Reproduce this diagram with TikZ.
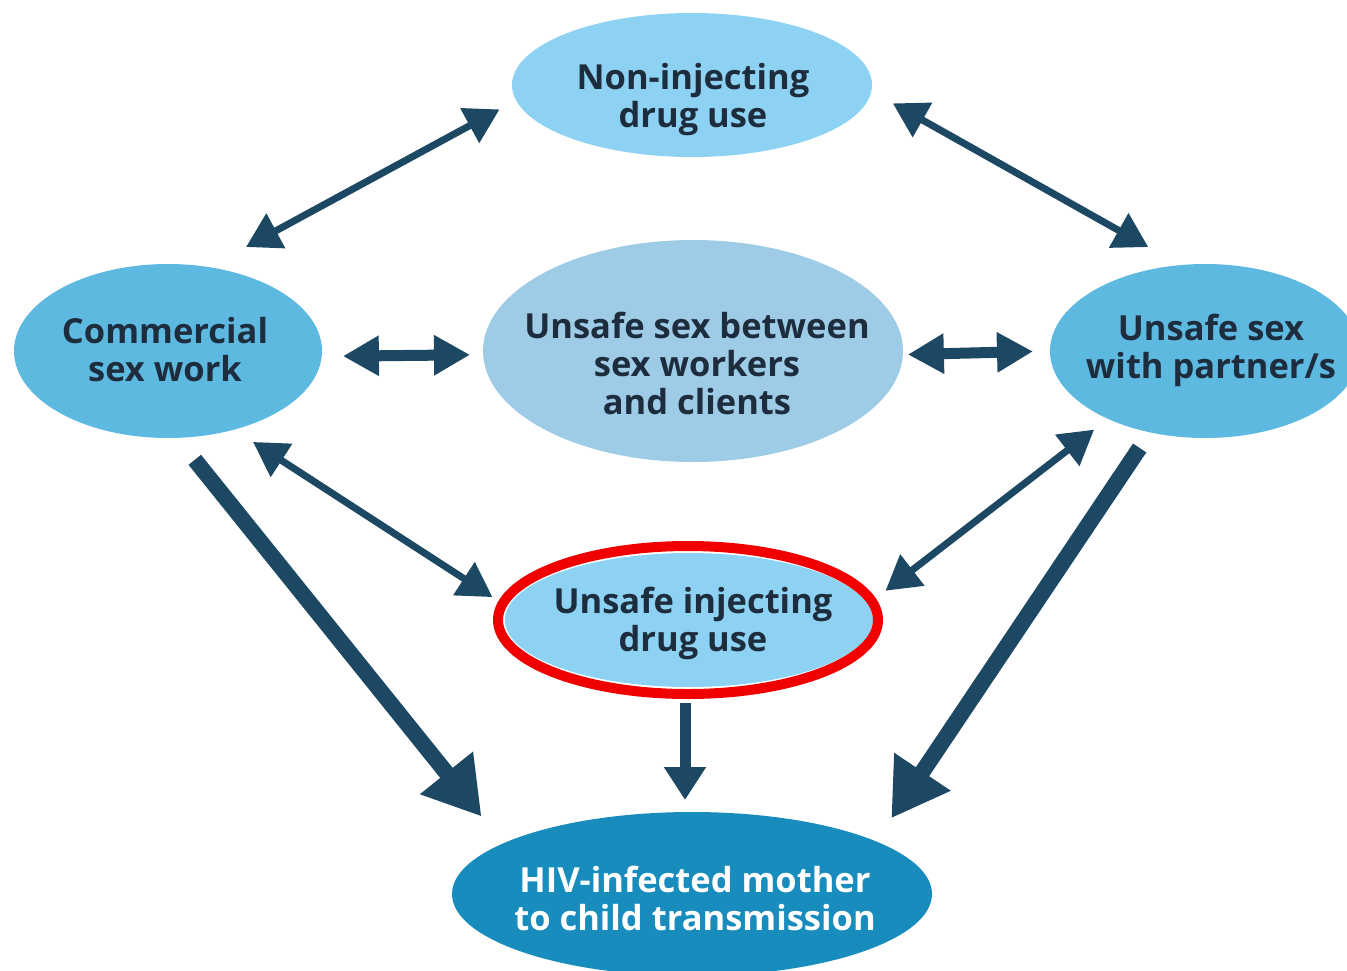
\documentclass[tikz,border=0pt]{standalone}
\usepackage{fontspec}
\setmainfont{Open Sans}
\usetikzlibrary{shapes.geometric,arrows.meta}
\definecolor{lblue}{RGB}{141,210,242}
\definecolor{mblue}{RGB}{94,185,225}
\definecolor{gblue}{RGB}{158,204,230}
\definecolor{dblue}{RGB}{25,140,190}
\definecolor{arrcol}{RGB}{28,72,100}
\definecolor{txtcol}{RGB}{30,45,62}
\definecolor{redcol}{RGB}{240,0,0}
\begin{document}
\begin{tikzpicture}[x=1pt,y=-1pt,
  ell/.style={ellipse,draw=none,inner sep=0pt,outer sep=0pt},
  lbl/.style={align=center,font=\fontsize{34.5}{38}\selectfont\bfseries,text=txtcol,inner sep=0pt},
  tarr/.style={draw=arrcol,line width=7pt,{Triangle[length=34pt,width=38pt]}-{Triangle[length=34pt,width=38pt]}},
  marr/.style={draw=arrcol,line width=11pt,{Triangle[length=36pt,width=38pt]}-{Triangle[length=36pt,width=38pt]}},
  sarr/.style={draw=arrcol,line width=11pt,-{Triangle[length=33pt,width=40pt]}},
  barr/.style={draw=arrcol,line width=16pt,-{Triangle[length=56pt,width=64pt]}}]
\useasboundingbox (0,0) rectangle (1347,970);
\fill[white] (0,0) rectangle (1347,970);
% ellipses
\node[ell,fill=lblue,minimum width=360pt,minimum height=144pt] (N) at (692,85) {};
\node[ell,fill=mblue,minimum width=308pt,minimum height=174pt] (C) at (168,351) {};
\node[ell,fill=gblue,minimum width=420pt,minimum height=222pt] (M) at (693,351) {};
\node[ell,fill=mblue,minimum width=310pt,minimum height=174pt] (P) at (1205,351) {};
\node[ell,fill=lblue,minimum width=368pt,minimum height=134pt] (U) at (689,620) {};
\node[ell,fill=dblue,minimum width=480pt,minimum height=164pt] (H) at (692,894) {};
\node[ellipse,draw=redcol,line width=10pt,inner sep=0pt,minimum width=380pt,minimum height=148pt] (R) at (688,620) {};
% arrows
\draw[tarr,shorten <=18.9pt,shorten >=42.2pt] (N.185.2) -- (C.64.6);
\draw[tarr,shorten <=24.7pt,shorten >=36.8pt] (N.358.5) -- (P.106.9);
\draw[marr,shorten <=21.2pt,shorten >=13.1pt] (C.358.5) -- (M.181.1);
\draw[marr,shorten <=5pt,shorten >=17pt] (M.359.7) -- (P.180.4);
\draw[tarr,shorten <=22.7pt,shorten >=18.9pt] (C.310.0) -- (U.176.3);
\draw[tarr,shorten <=17.6pt,shorten >=22.25pt] (P.215.4) -- (U.5.29);
\draw[barr,shorten <=28.2pt,shorten >=34.5pt] (C.276.25) -- (H.165.75);
\draw[barr,shorten <=18.8pt,shorten >=27.75pt] (P.236.3) -- (H.16.7);
\draw[sarr,shorten <=16pt,shorten >=12pt] ([xshift=-4pt]U.south) -- ([xshift=-7pt]H.north);
% labels
\node[lbl] (Nt) at (693,100) {Non-injecting\\drug use};
\node[lbl] (Ct) at (165,350) {Commercial\\sex work};
\node[lbl] (Mt) at (697,363) {Unsafe sex between\\sex workers\\and clients};
\node[lbl] (Pt) at (1211,350) {Unsafe sex\\with partner/s};
\node[lbl] (Ut) at (693,623) {Unsafe injecting\\drug use};
\node[lbl,text=white] (Ht) at (695,898) {HIV-infected mother\\to child transmission};
\end{tikzpicture}
\end{document}
